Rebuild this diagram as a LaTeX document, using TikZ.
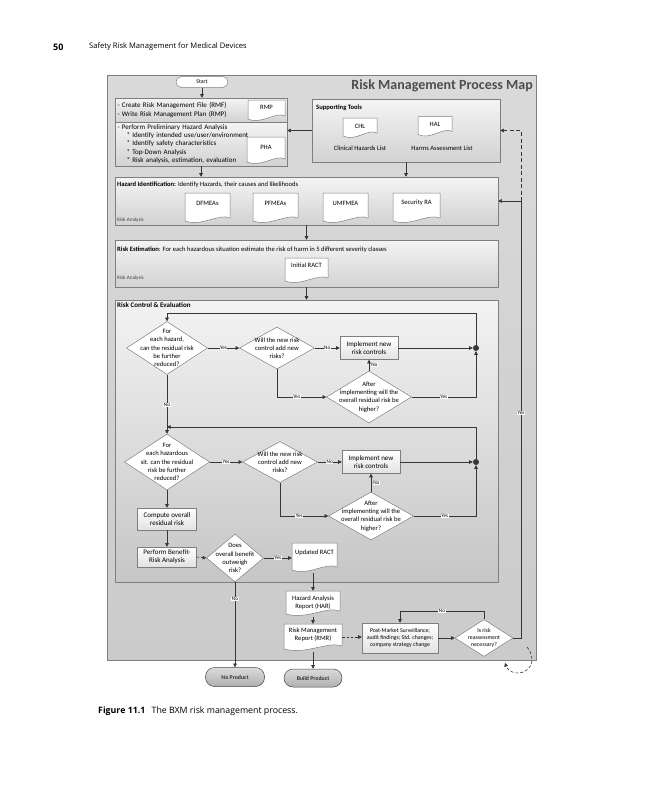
\documentclass[tikz,border=0pt]{standalone}
\usepackage{fontspec}
\setmainfont{Carlito}
\newfontfamily\headfont{Open Sans}
\usetikzlibrary{arrows.meta,shapes.geometric,calc}

\definecolor{panelA}{HTML}{DADADA}
\definecolor{panelB}{HTML}{CBCBCB}
\definecolor{secA}{HTML}{F4F4F4}
\definecolor{secB}{HTML}{D2D2D2}
\definecolor{rceA}{HTML}{F3F3F3}
\definecolor{rceB}{HTML}{C6C6C6}
\definecolor{boxB}{HTML}{E2E2E2}
\definecolor{edgec}{HTML}{7E7E7E}
\definecolor{wirec}{HTML}{363636}
\definecolor{titlec}{HTML}{4E4E4E}

\newcommand{\dgfont}{\fontsize{6.6}{8.2}\selectfont}
\newcommand{\dgbox}{\fontsize{7}{8.2}\selectfont}
\newcommand{\dgsmall}{\fontsize{5.8}{7}\selectfont}
\newcommand{\dgtiny}{\fontsize{5.2}{6}\selectfont}

\tikzset{
  wire/.style={draw=wirec, line width=0.6pt},
  arr/.style={wire, -{Triangle[length=3.6pt,width=3.6pt]}},
  dashwire/.style={dash pattern=on 2.5pt off 1.8pt},
  panel/.style={draw=edgec, line width=0.5pt, top color=panelA, bottom color=panelB, inner sep=0pt},
  section/.style={draw=edgec, line width=0.5pt, top color=secA, bottom color=secB, inner sep=0pt},
  rcepanel/.style={draw=edgec, line width=0.5pt, top color=rceA, bottom color=rceB, inner sep=0pt},
  procbox/.style={draw=edgec, line width=0.5pt, top color=white, bottom color=boxB, inner sep=0.5pt, align=center, font=\dgbox},
  docfill/.style={draw=edgec, line width=0.5pt, fill=white},
  docbox/.style={inner sep=0pt},
  dec/.style={diamond, draw=edgec, line width=0.5pt, fill=white, inner sep=0pt},
  dtext/.style={align=center, inner sep=0pt, font=\dgfont},
  term/.style={draw=edgec, line width=0.5pt, fill=white, rounded corners=5.5pt, inner sep=0pt, font=\dgsmall},
  endterm/.style={draw=gray!55!black, line width=0.5pt, top color=gray!28, bottom color=gray!62, rounded corners=9pt, inner sep=0pt, font=\dgsmall\bfseries, text=black!80},
  yn/.style={fill=white, inner sep=0.5pt, font=\dgtiny},
  junction/.style={circle, fill=wirec, minimum size=6pt, inner sep=0pt},
}

% document symbol: name, x, y, width, height, text lift, text
\newcommand{\docshape}[7]{%
  \path[docfill] (#2-#4/2,#3-#5/2) -- (#2+#4/2,#3-#5/2) -- (#2+#4/2,#3+#5/2-4)
    .. controls (#2+#4/4,#3+#5/2-9) and (#2-#4/8,#3+#5/2+5) .. (#2-#4/2,#3+#5/2-1) -- cycle;
  \node[docbox, minimum width=#4pt, minimum height=#5pt] (#1) at (#2,#3) {};
  \node[dtext] (#1-t) at (#2,#3-#6) {#7};}

\begin{document}
\begin{tikzpicture}[x=1pt,y=1pt,yscale=-1,xscale=1]
\useasboundingbox (0,0) rectangle (648,800);

% Text Node
\node[anchor=west, inner sep=0pt, font=\headfont\fontsize{9}{10}\selectfont\bfseries] (pageno) at (53,47) {50};
% Text Node
\node[anchor=west, inner sep=0pt, font=\headfont\fontsize{7.6}{9}\selectfont] (runhead) at (89,47) {Safety Risk Management for Medical Devices};

%Shape: outer panel
\node[panel, minimum width=429pt, minimum height=585pt] (map) at (321.5,367.5) {};
% Text Node
\node[anchor=east, inner sep=0pt, font=\fontsize{14}{16}\selectfont\bfseries, text=titlec] (title) at (533,86) {Risk Management Process Map};

%Shape: start
\node[term, minimum width=52pt, minimum height=11pt] (start) at (202,82) {Start};

%Shape: RMF / RMP box
\node[section, minimum width=172pt, minimum height=24pt, text width=167pt, inner xsep=2.5pt, align=left, font=\dgbox] (rmf) at (201,110)
  {- Create Risk Management File (RMF)\\- Write Risk Management Plan (RMP)};
%Shape: PHA box
\node[section, minimum width=172pt, minimum height=44pt, text width=167pt, inner xsep=2.5pt, align=left, font=\dgbox] (prelim) at (201,144)
  {- Perform Preliminary Hazard Analysis\\
   \hspace*{9pt}* Identify intended use/user/environment\\
   \hspace*{9pt}* Identify safety characteristics\\
   \hspace*{9pt}* Top-Down Analysis\\
   \hspace*{9pt}* Risk analysis, estimation, evaluation};
\docshape{rmp}{266.5}{110}{37}{20}{2.5}{RMP}
\docshape{pha}{266}{150}{38}{26}{3}{PHA}

%Shape: supporting tools
\node[section, minimum width=188pt, minimum height=63pt] (tools) at (406,130.5) {};
% Text Node
\node[anchor=west, inner sep=0pt, font=\dgfont\bfseries] (tools-t) at (316,107.5) {Supporting Tools};
\docshape{chl}{360}{127.5}{34}{19}{1.5}{CHL}
\docshape{hal}{435}{126}{34}{19}{1.5}{HAL}
% Text Node
\node[dtext] (chl-l) at (360,148) {Clinical Hazards List};
% Text Node
\node[dtext] (hal-l) at (442,148) {Harms Assessment List};

%Shape: hazard identification
\node[section, minimum width=383pt, minimum height=48pt] (hazid) at (306.5,201) {};
% Text Node
\node[anchor=west, inner sep=0pt, font=\dgfont] (hazid-t) at (117,185) {\textbf{Hazard Identification:} Identify Hazards, their causes and likelihoods};
% Text Node
\node[anchor=west, inner sep=0pt, font=\dgtiny, text=gray!50!black] (hazid-ra) at (117,220.5) {Risk Analysis};
\docshape{dfmea}{207.5}{207.5}{45}{29}{4.5}{DFMEAs}
\docshape{pfmea}{275.5}{207.5}{45}{29}{4.5}{PFMEAs}
\docshape{ufmea}{345.5}{207.5}{45}{29}{4.5}{UMFMEA}
\docshape{secra}{416.5}{207.5}{47}{29}{4.5}{Security RA}

%Shape: risk estimation
\node[section, minimum width=383pt, minimum height=47pt] (riskest) at (306.5,263.5) {};
% Text Node
\node[anchor=west, inner sep=0pt, font=\dgfont] (riskest-t) at (117,250) {\textbf{Risk Estimation}: For each hazardous situation estimate the risk of harm in 5 different severity classes};
% Text Node
\node[anchor=west, inner sep=0pt, font=\dgtiny, text=gray!50!black] (riskest-ra) at (117,278.5) {Risk Analysis};
\docshape{ract}{306.5}{270}{43}{24}{5}{Initial RACT}

%Shape: risk control and evaluation
\node[rcepanel, minimum width=383pt, minimum height=282pt] (rce) at (306.5,441) {};
% Text Node
\node[anchor=west, inner sep=0pt, font=\dgbox\bfseries] (rce-t) at (117,305.5) {Risk Control \& Evaluation};

% first loop
\node[dec, minimum width=81pt, minimum height=53pt] (hz1) at (167,348) {};
\node[dtext] (hz1-t) at (167,348) {For\\each hazard,\\can the residual risk\\be further\\reduced?};
\node[dec, minimum width=75pt, minimum height=42pt] (new1) at (277,348) {};
\node[dtext] (new1-t) at (277,348) {Will the new risk\\control add new\\risks?};
\node[procbox, minimum width=58pt, minimum height=23pt] (impl1) at (369,348) {Implement new\\risk controls};
\node[dec, minimum width=85pt, minimum height=52pt] (after1) at (369,397) {};
\node[dtext] (after1-t) at (369,397) {After\\implementing will the\\overall residual risk be\\higher?};
\node[junction] (dot1) at (476,348) {};
\coordinate (loop1) at (476,313);

% second loop
\node[dec, minimum width=85pt, minimum height=56pt] (hz2) at (167,462) {};
\node[dtext] (hz2-t) at (167,462) {For\\each hazardous\\sit. can the residual\\risk be further\\reduced?};
\node[dec, minimum width=75pt, minimum height=41pt] (new2) at (280,462) {};
\node[dtext] (new2-t) at (280,462) {Will the new risk\\control add new\\risks?};
\node[procbox, minimum width=58pt, minimum height=23pt] (impl2) at (371,462) {Implement new\\risk controls};
\node[dec, minimum width=85pt, minimum height=48pt] (after2) at (371,516) {};
\node[dtext] (after2-t) at (371,516) {After\\implementing will the\\overall residual risk be\\higher?};
\node[junction] (dot2) at (476,462) {};
\coordinate (loop2) at (476,427);

% benefit-risk
\node[procbox, minimum width=59pt, minimum height=22pt] (compute) at (167,519) {Compute overall\\residual risk};
\node[procbox, minimum width=59pt, minimum height=20pt] (perform) at (167,557) {Perform Benefit-\\Risk Analysis};
\node[dec, minimum width=57pt, minimum height=48pt] (benefit) at (235,558) {};
\node[dtext] (benefit-t) at (235,558) {Does\\overall benefit\\outweigh\\risk?};
\docshape{uract}{314.5}{557}{45}{28}{4}{Updated RACT}

% reports and post-market
\docshape{har}{313}{603}{54}{24}{0.5}{Hazard Analysis\\Report (HAR)}
\docshape{rmr}{313}{637}{58}{26}{2}{Risk Management\\Report (RMR)}
\node[procbox, font=\dgsmall, minimum width=76pt, minimum height=30pt] (pms) at (400,638) {Post-Market Surveillance;\\audit findings; Std. changes;\\company strategy change};
\node[dec, minimum width=58pt, minimum height=37pt] (reassess) at (484,638) {};
\node[dtext, font=\dgsmall] (reassess-t) at (484,638) {Is risk\\reassessment\\necessary?};
\coordinate (rail) at (521,638);

% end terminals
\node[endterm, minimum width=59pt, minimum height=19pt] (noprod) at (235,677) {No Product};
\node[endterm, minimum width=58pt, minimum height=18pt] (buildprod) at (313,678) {Build Product};

% connectors, top part
\draw[arr] (start.south) -- (start.south |- rmf.north);
\draw[arr] (tools.west) -- (tools.west -| prelim.east);
\draw[arr] (prelim.south) -- (prelim.south |- hazid.north);
\draw[arr] (tools.south) -- (tools.south |- hazid.north);
\draw[arr] (hazid.south) -- (riskest.north);
\draw[arr] (riskest.south) -- (rce.north);

% connectors, first loop
\draw[arr] (hz1.east) -- node[yn]{Yes} (new1.west);
\draw[arr] (new1.east) -- node[yn]{No} (impl1.west);
\draw[arr] (impl1.east) -- (dot1);
\draw[arr] (new1.south) |- node[yn, pos=0.7]{Yes} (after1.west);
\draw[arr] (after1.north) -- node[yn, anchor=west, xshift=1.5pt]{No} (impl1.south);
\draw[arr] (after1.east) -| node[yn, pos=0.25]{Yes} (dot1);
\draw[arr] (dot1) -- (loop1) -| (hz1.north);
\draw[arr] (hz1.south) -- node[yn, pos=0.51]{No} (hz2.north);

% connectors, second loop
\draw[arr] (hz2.east) -- node[yn]{Yes} (new2.west);
\draw[arr] (new2.east) -- node[yn]{No} (impl2.west);
\draw[arr] (impl2.east) -- (dot2);
\draw[arr] (new2.south) |- node[yn, pos=0.7]{Yes} (after2.west);
\draw[arr] (after2.north) -- node[yn, anchor=west, xshift=1.5pt]{No} (impl2.south);
\draw[arr] (after2.east) -| node[yn, pos=0.25]{Yes} (dot2);
\draw[arr] (dot2) -- (loop2) -- (loop2 -| hz1.south);

% connectors, benefit-risk and reports
\draw[arr] (hz2.south) -- (compute.north);
\draw[arr] (compute.south) -- (perform.north);
\draw[arr, dashwire] (perform.east) -- (benefit.west);
\draw[arr] (benefit.east) -- node[yn]{Yes} (benefit.east -| uract.west);
\draw[arr] (benefit.south) -- node[yn, pos=0.2]{No} (benefit.south |- noprod.north);
\draw[arr, shorten <=2pt] (har.north |- uract.south) -- (har.north);
\draw[arr, shorten <=2pt] (har.south) -- (rmr.north);
\draw[arr, shorten <=2pt] (rmr.south) -- (buildprod.north);
\draw[arr, dashwire] (rmr.east) -- (rmr.east -| pms.west);
\draw[arr] (pms.east) -- (reassess.west);
\draw[arr] (reassess.north) -- ++(0,-8) -| node[yn, pos=0.25]{No} (pms.north);

% return rail
\draw[wire] (reassess.east) -- (rail) -- node[yn, pos=0.515]{Yes} (rail |- hazid.east);
\draw[arr] (rail |- hazid.east) -- (hazid.east);
\draw[arr, dash pattern=on 4pt off 2.5pt] (rail |- hazid.east) -- (rail |- tools.east) -- (tools.east);
\draw[arr, dash pattern=on 3pt off 2pt] (527,647) .. controls (535,656) and (534,671) .. (519,673) .. controls (512,674) and (507,669) .. (505,663);

% Text Node
\node[anchor=west, inner sep=0pt, font=\headfont\fontsize{8.8}{10}\selectfont] (caption) at (98,711) {\textbf{Figure 11.1}\hspace{4pt} The BXM risk management process.};

\end{tikzpicture}
\end{document}
